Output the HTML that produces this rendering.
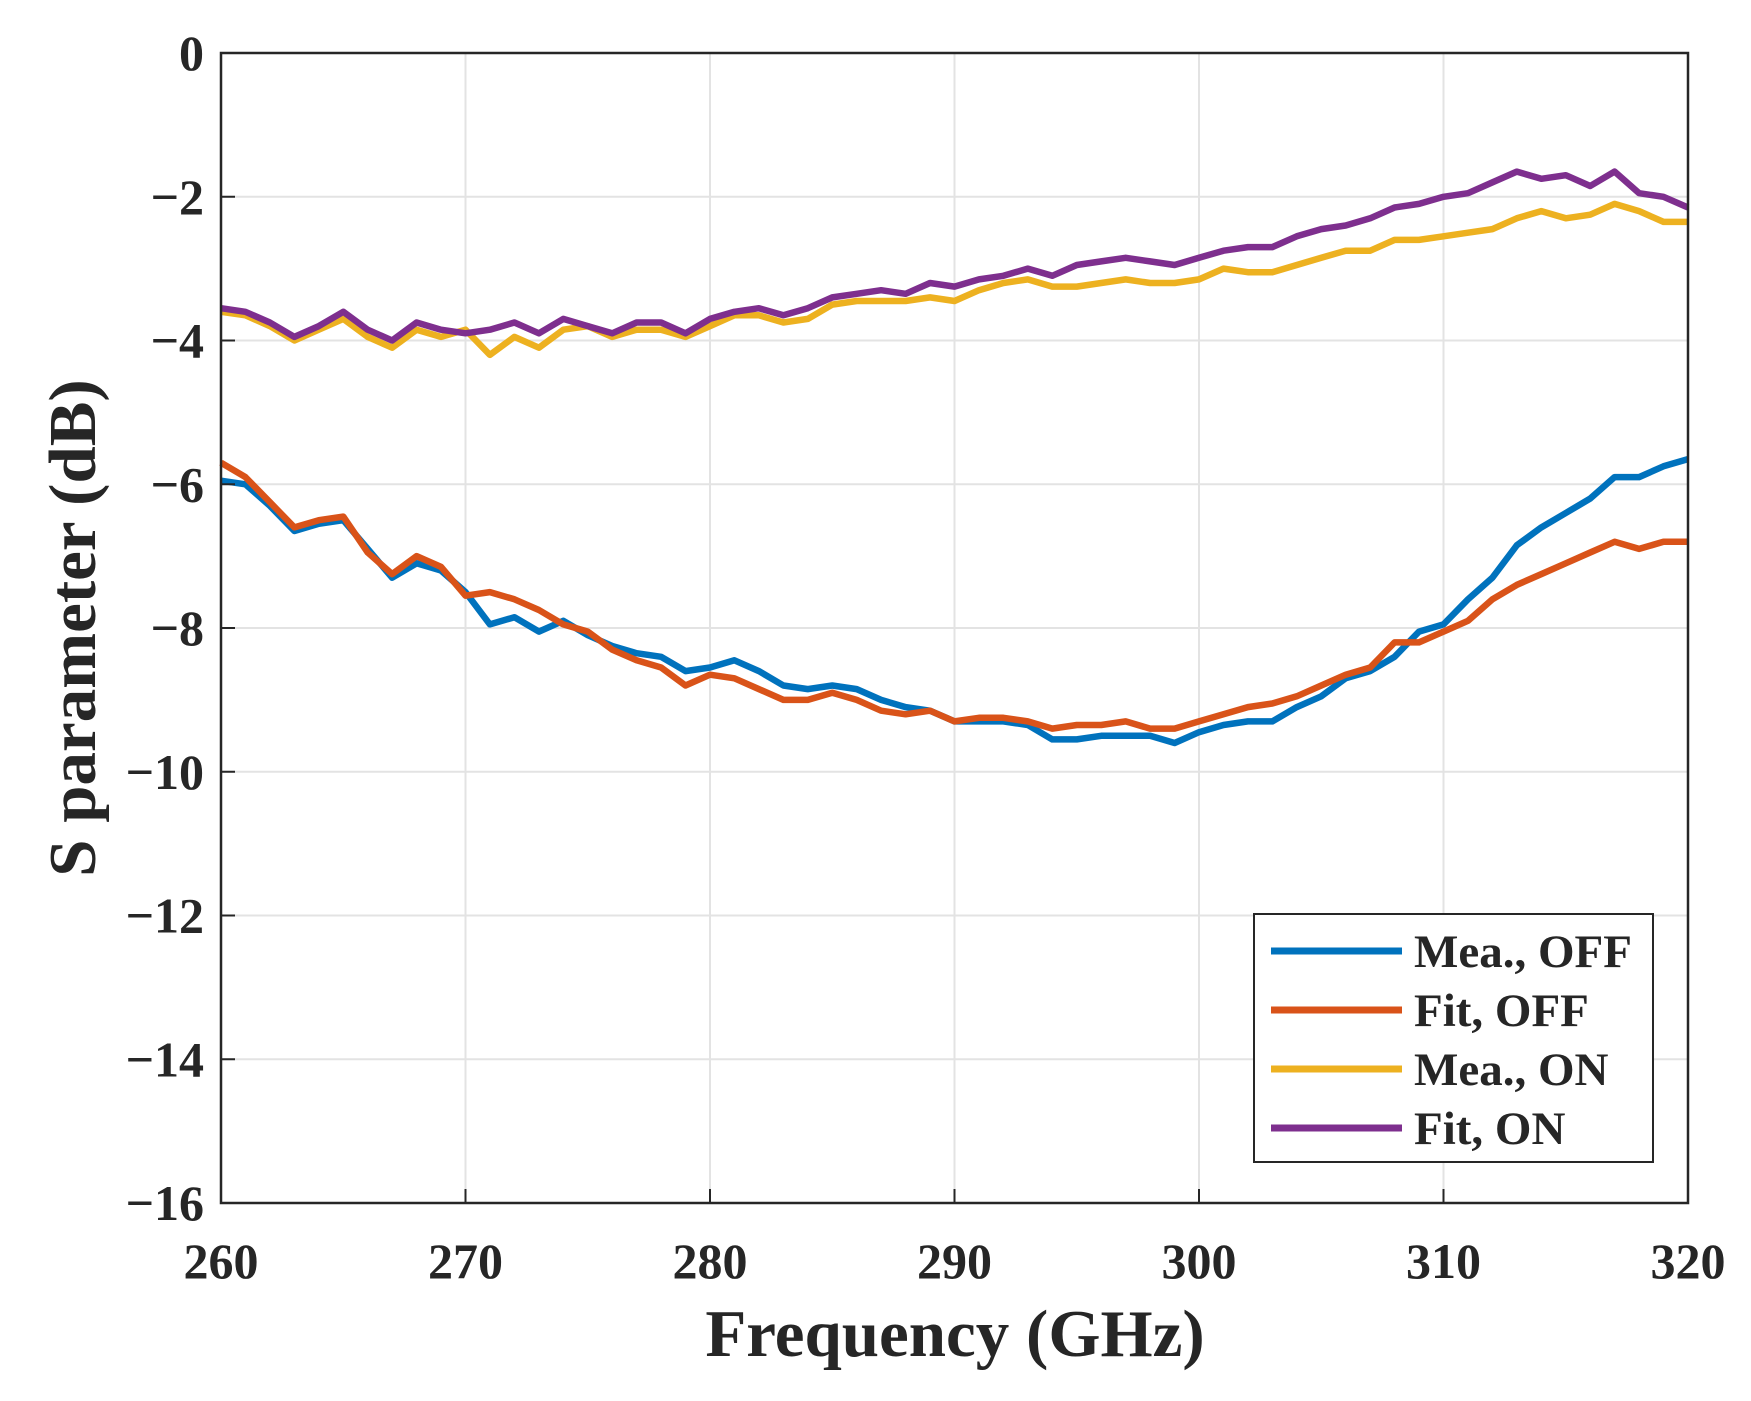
<!DOCTYPE html>
<html><head><meta charset="utf-8"><style>
html,body{margin:0;padding:0;background:#fff;}
svg text{font-family:"Liberation Serif",serif;font-weight:bold;fill:#262626;}
</style></head><body>
<svg id="chart" width="1751" height="1396" viewBox="0 0 1751 1396" xmlns="http://www.w3.org/2000/svg">
<g id="grid"></g>
<g id="series"></g>
<rect x="221" y="53" width="1467" height="1150" fill="none" stroke="#262626" stroke-width="2.5"/>
<g id="ticks"></g>
<text x="955" y="1356" font-size="67" text-anchor="middle">Frequency (GHz)</text>
<text transform="translate(95,628) rotate(-90)" font-size="67" text-anchor="middle">S parameter (dB)</text>
<g id="legend"></g>
</svg>
<script>
const freqs = [260,261,262,263,264,265,266,267,268,269,270,271,272,273,274,275,276,277,278,279,280,281,282,283,284,285,286,287,288,289,290,291,292,293,294,295,296,297,298,299,300,301,302,303,304,305,306,307,308,309,310,311,312,313,314,315,316,317,318,319,320];
const meaOff = [-5.95,-6.0,-6.3,-6.65,-6.55,-6.5,-6.9,-7.3,-7.1,-7.2,-7.5,-7.95,-7.85,-8.05,-7.9,-8.1,-8.25,-8.35,-8.4,-8.6,-8.55,-8.45,-8.6,-8.8,-8.85,-8.8,-8.85,-9.0,-9.1,-9.15,-9.3,-9.3,-9.3,-9.35,-9.55,-9.55,-9.5,-9.5,-9.5,-9.6,-9.45,-9.35,-9.3,-9.3,-9.1,-8.95,-8.7,-8.6,-8.4,-8.05,-7.95,-7.6,-7.3,-6.85,-6.6,-6.4,-6.2,-5.9,-5.9,-5.75,-5.65];
const fitOff = [-5.7,-5.9,-6.25,-6.6,-6.5,-6.45,-6.95,-7.25,-7.0,-7.15,-7.55,-7.5,-7.6,-7.75,-7.95,-8.05,-8.3,-8.45,-8.55,-8.8,-8.65,-8.7,-8.85,-9.0,-9.0,-8.9,-9.0,-9.15,-9.2,-9.15,-9.3,-9.25,-9.25,-9.3,-9.4,-9.35,-9.35,-9.3,-9.4,-9.4,-9.3,-9.2,-9.1,-9.05,-8.95,-8.8,-8.65,-8.55,-8.2,-8.2,-8.05,-7.9,-7.6,-7.4,-7.25,-7.1,-6.95,-6.8,-6.9,-6.8,-6.8];
const meaOn = [-3.6,-3.65,-3.8,-4.0,-3.85,-3.7,-3.95,-4.1,-3.85,-3.95,-3.85,-4.2,-3.95,-4.1,-3.85,-3.8,-3.95,-3.85,-3.85,-3.95,-3.8,-3.65,-3.65,-3.75,-3.7,-3.5,-3.45,-3.45,-3.45,-3.4,-3.45,-3.3,-3.2,-3.15,-3.25,-3.25,-3.2,-3.15,-3.2,-3.2,-3.15,-3.0,-3.05,-3.05,-2.95,-2.85,-2.75,-2.75,-2.6,-2.6,-2.55,-2.5,-2.45,-2.3,-2.2,-2.3,-2.25,-2.1,-2.2,-2.35,-2.35];
const fitOn = [-3.55,-3.6,-3.75,-3.95,-3.8,-3.6,-3.85,-4.0,-3.75,-3.85,-3.9,-3.85,-3.75,-3.9,-3.7,-3.8,-3.9,-3.75,-3.75,-3.9,-3.7,-3.6,-3.55,-3.65,-3.55,-3.4,-3.35,-3.3,-3.35,-3.2,-3.25,-3.15,-3.1,-3.0,-3.1,-2.95,-2.9,-2.85,-2.9,-2.95,-2.85,-2.75,-2.7,-2.7,-2.55,-2.45,-2.4,-2.3,-2.15,-2.1,-2.0,-1.95,-1.8,-1.65,-1.75,-1.7,-1.85,-1.65,-1.95,-2.0,-2.15];
const xTicks = [260,270,280,290,300,310,320];
const yTicks = [0,-2,-4,-6,-8,-10,-12,-14,-16];
const yTickLabels = ["0","\u22122","\u22124","\u22126","\u22128","\u221210","\u221212","\u221214","\u221216"];
const seriesNames = ["Mea., OFF","Fit, OFF","Mea., ON","Fit, ON"];
const seriesKeys = ["mea-off","fit-off","mea-on","fit-on"];
const colors = ["#0072BD","#D95319","#EDB120","#7E2F8E"];
const seriesData = [meaOff, fitOff, meaOn, fitOn];

const L=221,R=1688,T=53,B=1203;
const xS = f => L + (f-260)/(320-260)*(R-L);
const yS = v => T + (0-v)/16*(B-T);
const NS="http://www.w3.org/2000/svg";
function mk(tag, attrs, parent){const e=document.createElementNS(NS,tag);for(const k in attrs)e.setAttribute(k,attrs[k]);parent.appendChild(e);return e;}
const grid=document.getElementById('grid'), ticks=document.getElementById('ticks'), ser=document.getElementById('series'), leg=document.getElementById('legend');

xTicks.forEach(t=>{
  const g=mk('line',{x1:xS(t),x2:xS(t),y1:T,y2:B,stroke:'#e3e3e3','stroke-width':2},grid);
  
  
  const tk=mk('line',{x1:xS(t),x2:xS(t),y1:B,y2:B-14,stroke:'#262626','stroke-width':2},ticks);
  
  
  const lb=mk('text',{x:xS(t),y:1278,'font-size':50,'text-anchor':'middle'},ticks);
  lb.textContent=t;
  
  
});
yTicks.forEach((t,i)=>{
  const g=mk('line',{x1:L,x2:R,y1:yS(t),y2:yS(t),stroke:'#e3e3e3','stroke-width':2},grid);
  
  
  const tk=mk('line',{x1:L,x2:L+14,y1:yS(t),y2:yS(t),stroke:'#262626','stroke-width':2},ticks);
  
  
  const lb=mk('text',{x:204,y:yS(t)+17,'font-size':50,'text-anchor':'end'},ticks);
  lb.textContent=yTickLabels[i];
  
  
});
seriesData.forEach((vals,si)=>{
  const d=vals.map((v,i)=>(i?'L':'M')+xS(freqs[i]).toFixed(1)+' '+yS(v).toFixed(1)).join(' ');
  const p=mk('path',{d:d,fill:'none',stroke:colors[si],'stroke-width':6.5,'stroke-linejoin':'round'},ser);
  
  
});
const box=mk('rect',{x:1254,y:914,width:399,height:248,fill:'#fff',stroke:'#262626','stroke-width':2},leg);


seriesNames.forEach((n,i)=>{
  const y=951+i*59;
  const ln=mk('line',{x1:1271,x2:1402,y1:y,y2:y,stroke:colors[i],'stroke-width':7},leg);
  
  
  const tx=mk('text',{x:1414,y:y+16,'font-size':47},leg);
  tx.textContent=n;
  
  
});
</script>
</body></html>
